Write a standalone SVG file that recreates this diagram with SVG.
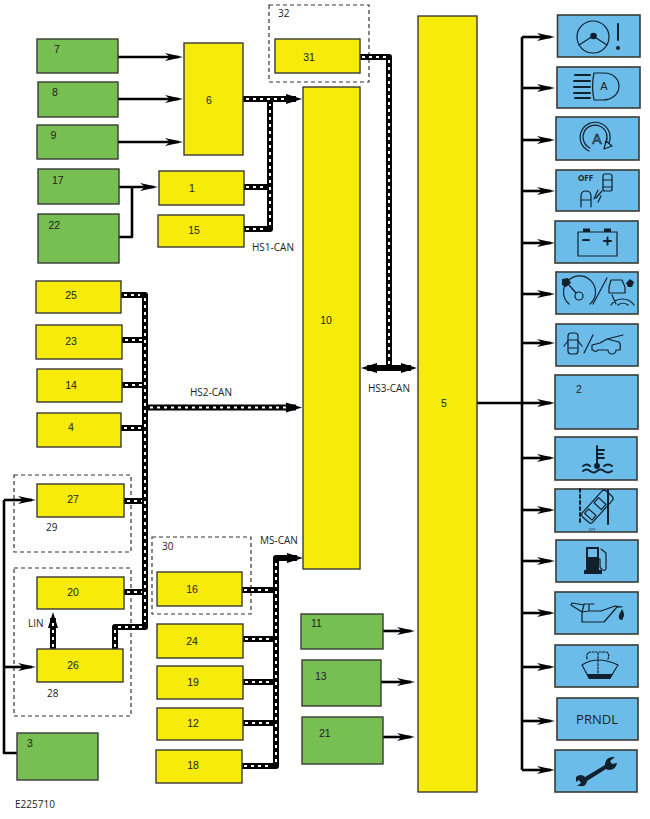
<svg xmlns="http://www.w3.org/2000/svg" width="650" height="819" viewBox="0 0 650 819">
<style>
text{font-family:"Liberation Sans",Arial,sans-serif;font-size:10.5px;fill:#222}
.l{font-family:"Open Sans","Liberation Sans",Arial,sans-serif;font-size:10px}
.m{text-anchor:middle}
.y,.g,.c{stroke:#3a3a36;stroke-width:1.4}
.y{fill:#f7eb0a}.g{fill:#78bf53}.c{fill:#6cbcea;stroke-width:1.6}
.d{fill:none;stroke:#333;stroke-width:1.2;stroke-dasharray:4 3}
.p{fill:none;stroke:#000;stroke-width:2.6;stroke-linejoin:round}
.bk{fill:none;stroke:#000;stroke-width:6;stroke-linejoin:round}
.wh{fill:none;stroke:#fff;stroke-width:2;stroke-dasharray:3 4}
.i{fill:none;stroke:#10202c;stroke-width:1.2;stroke-linecap:round;stroke-linejoin:round}
.it{fill:none;stroke:#10202c;stroke-width:2;stroke-linecap:round;stroke-linejoin:round}
.f{fill:#10202c;stroke:none}
</style>
<defs>
<marker id="a" markerUnits="userSpaceOnUse" markerWidth="24" markerHeight="12" refX="14" refY="5" orient="auto-start-reverse" viewBox="0 0 24 10"><path d="M0 1 L18 5 L0 9 L5 5Z" fill="#000"/></marker>
<marker id="h" markerUnits="userSpaceOnUse" markerWidth="24" markerHeight="12" refX="10" refY="5" orient="auto-start-reverse" viewBox="0 0 24 10"><path d="M0 0 L16 5 L0 10 Z" fill="#000"/></marker>
</defs>
<g id="containers">
<rect class="d" x="269" y="5" width="100" height="77"/>
<rect class="d" x="14" y="475" width="117" height="77"/>
<rect class="d" x="14" y="568" width="117" height="148"/>
<rect class="d" x="152" y="537" width="99" height="77"/>
<text class="l" x="278" y="17">32</text><text class="l" x="46" y="531">29</text><text class="l" x="47" y="697">28</text><text class="l" x="162" y="550">30</text>
</g>
<g id="connectors">
<path class="p" marker-end="url(#a)" d="M118 57H179"/>
<path class="p" marker-end="url(#a)" d="M118 99H179"/>
<path class="p" marker-end="url(#a)" d="M118 142H179"/>
<path class="p" marker-end="url(#a)" d="M119 187H154"/>
<path class="p" d="M119 237H132V187"/>
<path class="p" marker-end="url(#a)" d="M383 631H411"/>
<path class="p" marker-end="url(#a)" d="M381 682H411"/>
<path class="p" marker-end="url(#a)" d="M383 737H411"/>
<path class="p" d="M477 403H522"/>
<path class="p" d="M522 770V37"/>
<path class="p" marker-end="url(#a)" d="M522 37H551"/>
<path class="p" marker-end="url(#a)" d="M522 88H551"/>
<path class="p" marker-end="url(#a)" d="M522 140H551"/>
<path class="p" marker-end="url(#a)" d="M522 191H551"/>
<path class="p" marker-end="url(#a)" d="M522 243H551"/>
<path class="p" marker-end="url(#a)" d="M522 294H551"/>
<path class="p" marker-end="url(#a)" d="M522 343H551"/>
<path class="p" marker-end="url(#a)" d="M522 403H551"/>
<path class="p" marker-end="url(#a)" d="M522 458H551"/>
<path class="p" marker-end="url(#a)" d="M522 510H551"/>
<path class="p" marker-end="url(#a)" d="M522 561H551"/>
<path class="p" marker-end="url(#a)" d="M522 613H551"/>
<path class="p" marker-end="url(#a)" d="M522 667H551"/>
<path class="p" marker-end="url(#a)" d="M522 721H551"/>
<path class="p" marker-end="url(#a)" d="M522 770H551"/>
<path class="p" d="M17 753H4V500"/>
<path class="p" marker-end="url(#a)" d="M4 500H32"/>
<path class="p" marker-end="url(#a)" d="M4 667H32"/>
<!-- HS1 -->
<path class="bk" marker-end="url(#h)" d="M243 99H296"/>
<path class="bk" d="M244 187H270M244 229H270V99"/>
<path class="wh" d="M246 99H288M246 187H265M246 229H264M270 225V104"/>
<!-- 31 / HS3 -->
<path class="bk" d="M360 57H389V368"/>
<path class="bk" marker-start="url(#h)" marker-end="url(#h)" d="M367 368H411"/>
<path class="wh" d="M362 57H386M389 60V365"/>
<!-- HS2 -->
<path class="bk" d="M121 295H145V627H115V649"/>
<path class="bk" d="M122 340H145M122 385H145M121 428H145M124 501H145M124 592H145"/>
<path class="bk" marker-end="url(#h)" d="M145 407.500H296"/>
<path class="wh" d="M124 295H140M145 298V622M142 627H118M115 630V647M125 340H142M125 385H142M124 428H142M127 501H142M127 592H142M150 407.500H290"/>
<!-- MS-CAN -->
<path class="bk" marker-end="url(#h)" d="M242 766H276V558H297"/>
<path class="bk" d="M242 590H276M243 639H276M243 682H276M243 723H276"/>
<path class="wh" d="M244 590H272M245 639H272M245 682H272M245 723H272M244 766H272M276 762V563"/>
<!-- LIN -->
<path class="bk" marker-end="url(#h)" d="M53 649V618"/>
<path class="wh" d="M53 647V622"/>
</g>
<g id="n7"><rect class="g" x="37" y="39" width="81" height="34"/><text x="54" y="53">7</text></g>
<g id="n8"><rect class="g" x="38" y="82" width="80" height="35"/><text x="52" y="96">8</text></g>
<g id="n9"><rect class="g" x="37" y="125" width="81" height="34"/><text x="50.500" y="139">9</text></g>
<g id="n17"><rect class="g" x="38" y="169" width="81" height="35"/><text x="52" y="184">17</text></g>
<g id="n22"><rect class="g" x="38" y="214" width="81" height="49"/><text x="48.500" y="229">22</text></g>
<g id="n6"><rect class="y" x="184" y="43" width="59" height="112"/><text class="m" x="209" y="104">6</text></g>
<g id="n31"><rect class="y" x="275" y="39" width="85" height="34"/><text class="m" x="309" y="61">31</text></g>
<g id="n1"><rect class="y" x="159" y="171" width="85" height="34"/><text class="m" x="192" y="192">1</text></g>
<g id="n15"><rect class="y" x="158" y="215" width="86" height="32"/><text class="m" x="194" y="234">15</text></g>
<g id="n10"><rect class="y" x="303" y="87" width="57" height="482"/><text class="m" x="326" y="324">10</text></g>
<g id="n5"><rect class="y" x="418" y="16" width="59" height="776"/><text class="m" x="444" y="407">5</text></g>
<g id="n25"><rect class="y" x="36" y="281" width="85" height="32"/><text class="m" x="71" y="299">25</text></g>
<g id="n23"><rect class="y" x="36" y="325" width="86" height="34"/><text class="m" x="71" y="345">23</text></g>
<g id="n14"><rect class="y" x="37" y="369" width="85" height="33"/><text class="m" x="71" y="389">14</text></g>
<g id="n4"><rect class="y" x="37" y="413" width="84" height="34"/><text class="m" x="71" y="431">4</text></g>
<g id="n27"><rect class="y" x="37" y="484" width="87" height="33"/><text class="m" x="73" y="503">27</text></g>
<g id="n20"><rect class="y" x="37" y="577" width="87" height="32"/><text class="m" x="73" y="596">20</text></g>
<g id="n26"><rect class="y" x="37" y="649" width="86" height="33"/><text class="m" x="73" y="669">26</text></g>
<g id="n3"><rect class="g" x="17" y="733" width="81" height="47"/><text x="27" y="747">3</text></g>
<g id="n16"><rect class="y" x="157" y="572" width="85" height="34"/><text class="m" x="192" y="593">16</text></g>
<g id="n24"><rect class="y" x="157" y="624" width="86" height="34"/><text class="m" x="192" y="645">24</text></g>
<g id="n19"><rect class="y" x="157" y="666" width="86" height="33"/><text class="m" x="193" y="686">19</text></g>
<g id="n12"><rect class="y" x="157" y="708" width="86" height="32"/><text class="m" x="193" y="727">12</text></g>
<g id="n18"><rect class="y" x="156" y="750" width="86" height="33"/><text class="m" x="193" y="769">18</text></g>
<g id="n11"><rect class="g" x="301" y="614" width="82" height="35"/><text x="311" y="627">11</text></g>
<g id="n13"><rect class="g" x="302" y="660" width="79" height="46"/><text x="315" y="680">13</text></g>
<g id="n21"><rect class="g" x="302" y="717" width="81" height="47"/><text x="319" y="737">21</text></g>
<g id="labels">
<text class="l" x="252" y="251">HS1-CAN</text>
<text class="l" x="190" y="396">HS2-CAN</text>
<text class="l" x="368" y="392">HS3-CAN</text>
<text class="l" x="260" y="544">MS-CAN</text>
<text class="l" x="28" y="627">LIN</text>
<text class="l" x="15" y="808">E225710</text>
</g>
<g id="i1"><rect class="c" x="557.500" y="15" width="82.500" height="42"/>
<circle class="i" cx="593" cy="37" r="16"/><circle class="f" cx="593.500" cy="36" r="3.300"/><path class="i" d="M593 36 L579 45M593 36 L607 45"/><path class="it" d="M618 24V40"/><circle class="f" cx="618" cy="48" r="2"/></g>
<g id="i2"><rect class="c" x="557" y="67" width="83" height="41"/>
<path class="it" stroke-width="1.500" d="M575 75H590M574 81H590M574 87H590M574 93H590M575 98H590"/><path class="i" d="M594 73H604C613 73 619 79 619 86C619 94 612 100 603 100H594C592 90 592 82 594 73Z"/><text class="m" x="604" y="90" style="font-size:11px">A</text></g>
<g id="i3"><rect class="c" x="556" y="117" width="83" height="43"/>
<path class="i" stroke-width="1" d="M589 151A15 15 0 1 1 609 143M590 148A12 12 0 1 1 606 142"/><path class="i" d="M604 149L612 146L606 141Z"/><text class="m" x="597" y="144" style="font-size:14px;fill:none;stroke:#10202c;stroke-width:.7">A</text></g>
<g id="i4"><rect class="c" x="556" y="170" width="83" height="41"/>
<text class="l" x="578" y="181" style="font-size:8px;font-weight:700">OFF</text><rect class="i" x="603" y="174" width="9" height="17" rx="2"/><path class="i" d="M603 180H612M603 187H612"/><path class="i" d="M581 207V196Q581 191 586 191Q591 191 591 196V207M581 200H591M594 199L598 190M598 202L601 196M596 198L602 191"/></g>
<g id="i5"><rect class="c" x="555" y="221" width="83" height="42"/>
<rect class="i" x="578" y="232" width="39" height="24"/><rect class="f" x="583" y="228.500" width="7" height="3.500"/><rect class="f" x="604" y="228.500" width="7" height="3.500"/><path class="it" d="M583 240H589M604 241H611M607.500 237.500V244.500"/></g>
<g id="i6"><rect class="c" x="556" y="272" width="82" height="42"/>
<path class="i" d="M569 304A16 16 0 1 1 590 304"/><circle class="i" cx="579" cy="296" r="4"/><path class="i" d="M576 293L569 285"/><path class="f" d="M562 279L568 278L571 283L566 287L562 285Z"/><path class="i" d="M593 304L607 278"/>
<path class="i" d="M611 305A14 14 0 0 1 634 305M618 305A8 8 0 0 1 628 305M609 287L611 280H622L625 287V293H609ZM612 295L616 304"/><path class="f" d="M626 283L630 279L634 282L632 287L628 287Z"/></g>
<g id="i7"><rect class="c" x="556" y="324" width="82" height="42"/>
<rect class="i" x="568" y="333" width="10" height="21" rx="3"/><path class="i" d="M569 340H577M569 348H577M568 341L564 346M578 341L582 346"/><path class="i" d="M584 353L593 335"/><path class="i" d="M592 350V345L600 343L607 339L623 335M607 339L619 342Q621 344 620 350H617M608 350H598M598 350A3 3 0 0 1 593 350M608 350A4 4 0 0 0 616 350"/></g>
<g id="i2n"><rect class="c" x="555" y="375" width="83" height="54"/><text x="576" y="393">2</text></g>
<g id="i9"><rect class="c" x="555" y="437" width="82" height="43"/>
<path class="it" stroke-width="2.400" d="M597 446V465"/><circle class="f" cx="597" cy="466" r="3"/><path class="it" stroke-width="1.400" d="M598 450H604M598 454H603M598 458H604"/><path class="it" stroke-width="1.400" d="M583 466Q587 463 590 466M604 466Q608 463 612 466M583 471Q587 468 590 471Q594 474 597 471Q601 468 604 471Q608 474 612 471"/></g>
<g id="i10"><rect class="c" x="555" y="489" width="82" height="43"/>
<path class="it" stroke-width="2.400" stroke-dasharray="3 3" stroke-linecap="butt" d="M580 489V523"/><path class="it" stroke-width="2.400" d="M608 490V524"/><g transform="rotate(42 597 507)"><rect class="i" x="590" y="489" width="14" height="35" rx="3" fill="#6cbcea"/><rect class="i" x="592" y="499" width="10" height="7"/><rect class="i" x="592" y="514" width="10" height="6"/></g><text class="m l" x="592" y="531" style="font-size:4px">OFF</text></g>
<g id="i11"><rect class="c" x="556" y="540" width="82" height="42"/>
<path class="f" d="M586 547H599V570H602V574H584V570H586Z"/><rect x="588" y="549" width="9" height="8" fill="#6cbcea"/><path class="i" stroke-width="1.500" d="M601 549L606 553V568Q606 571 603 570Q600 569 600 566V559H598"/></g>
<g id="i12"><rect class="c" x="555" y="592" width="83" height="42"/>
<path class="i" stroke-width="1.500" d="M582 612V622H604L617 607H622L615 606L601 611H589L582 612ZM582 612L571 605L572 603L584 605ZM589 611V605M584 604H594"/><path class="f" d="M622 609Q626 615 622 620Q618 620 619 615Z"/></g>
<g id="i13"><rect class="c" x="555" y="645" width="83" height="42"/>
<path class="i" stroke-width=".8" stroke-dasharray="2 1.500" d="M587 659Q586 652 591 652H597M599 652H606Q610 653 608 659M598 653V678"/><path class="i" d="M582 665Q597 655 618 665L610 678H589Z"/><path class="f" d="M587 674H613L610 679H589Z"/></g>
<g id="i14"><rect class="c" x="557" y="698" width="81" height="42"/><text class="m l" x="597" y="724" style="font-size:13px">PRNDL</text></g>
<g id="i15"><rect class="c" x="555" y="750" width="82" height="42"/>
<path class="f" d="M576 777Q581 773 585 777L605 765Q605 758 612 757L615 757L610 761L612 764L617 763Q616 769 610 770Q607 770 606 769L587 781Q586 787 581 786L577 786L581 783L579 780L576 782Z"/></g>
</svg>
